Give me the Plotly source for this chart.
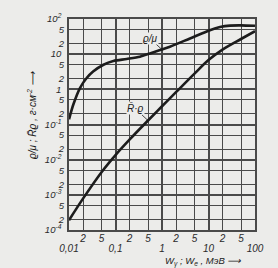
import plotly.graph_objects as go
import numpy as np

# ---- data ----
energy_mu = [0.01, 0.0124, 0.0172, 0.024, 0.033, 0.055, 0.09, 0.174, 0.336, 0.55,
             0.91, 1.48, 4.0, 10.7, 17.7, 29, 50, 100]
rho_mu = [0.14, 0.37, 1.09, 2.1, 3.2, 5.0, 6.4, 7.3, 8.5, 10.5,
          13.1, 16.3, 28, 48, 59, 65, 66, 64]

energy_r = [0.01, 0.02, 0.05, 0.1, 0.2, 0.5, 1, 2, 5, 10, 20, 50, 100]
r_rho = [1.9e-4, 7.8e-4, 4.4e-3, 0.0135, 0.037, 0.13, 0.33, 0.83, 2.8, 6.8, 13.5, 27, 45]

x_decades = [0.01, 0.1, 1, 10, 100]
x_decade_text = ["0,01", "0,1", "1", "10", "100"]
x_minor = [0.02, 0.05, 0.2, 0.5, 2, 5, 20, 50]
x_minor_text = ["2", "5", "2", "5", "2", "5", "2", "5"]

y_decades = [1e-4, 1e-3, 1e-2, 1e-1, 1, 10, 100]
y_decade_text = ["10<sup>-4</sup>", "10<sup>-3</sup>", "10<sup>-2</sup>", "10<sup>-1</sup>",
                 "1", "10", "10<sup>2</sup>"]
y_minor = [2e-4, 5e-4, 2e-3, 5e-3, 2e-2, 5e-2, 0.2, 0.5, 2, 5, 20, 50]
y_minor_text = ["2", "5"] * 6

ink = "#1c1c1c"
grid = "#4a4a4a"
paper = "#ececea"
family = "Liberation Sans, Arial, sans-serif"
fnt = dict(family=family, size=10, color="#2a2a2a", style="italic")
yfnt = dict(family=family, size=9.5, color="#2a2a2a", style="italic")

fig = go.Figure()
fig.add_trace(go.Scatter(x=energy_mu, y=rho_mu, mode="lines",
                         line=dict(color=ink, width=2.6, shape="spline", smoothing=0.8),
                         showlegend=False, hoverinfo="skip"))
fig.add_trace(go.Scatter(x=energy_r, y=r_rho, mode="lines",
                         line=dict(color=ink, width=2.6, shape="spline", smoothing=1.0),
                         showlegend=False, hoverinfo="skip"))
fig.add_trace(go.Scatter(x=[], y=[], xaxis="x2", yaxis="y2", showlegend=False, hoverinfo="skip"))

axis_common = dict(type="log", showline=True, linecolor=grid, linewidth=1.5, mirror=True,
                   ticks="", zeroline=False, tickmode="array")

fig.update_layout(
    width=278, height=268,
    margin=dict(l=69, r=23, t=17, b=38),
    paper_bgcolor=paper, plot_bgcolor=paper,
    xaxis=dict(**axis_common, range=[-2, 2], tickvals=x_decades, ticktext=x_decade_text,
               tickfont=fnt, showgrid=True, gridcolor=grid, gridwidth=1.6, ticklabelstandoff=8,
               minor=dict(tickmode="array", tickvals=x_minor, showgrid=True, gridcolor=grid,
                          gridwidth=0.9, ticks="")),
    yaxis=dict(**axis_common, range=[-4, 2], tickvals=y_decades, ticktext=y_decade_text,
               tickfont=yfnt, showgrid=True, gridcolor=grid, gridwidth=1.6, ticklabelstandoff=4,
               minor=dict(tickmode="array", tickvals=y_minor, showgrid=True, gridcolor=grid,
                          gridwidth=0.9, ticks="")),
    xaxis2=dict(type="log", range=[-2, 2], overlaying="x", anchor="y2", side="bottom", showgrid=False,
                showline=False, zeroline=False, ticks="", tickmode="array", tickvals=x_minor,
                ticktext=x_minor_text, tickfont=fnt, ticklabelstandoff=1),
    yaxis2=dict(type="log", range=[-4, 2], overlaying="y", anchor="x2", side="left", showgrid=False,
                showline=False, zeroline=False, ticks="", tickmode="array", tickvals=y_minor,
                ticktext=y_minor_text, tickfont=yfnt, ticklabelstandoff=4),
)

# curve labels with leader lines
fig.add_annotation(x=np.log10(1.0), y=np.log10(13.5), xref="x", yref="y", text="ϱ/μ",
                   showarrow=True, arrowhead=0, arrowwidth=0.8, arrowcolor=ink, ax=-12, ay=-11,
                   font=dict(family=family, size=10, color=ink, style="italic"),
                   bgcolor=paper, borderpad=0)
fig.add_annotation(x=np.log10(0.5), y=np.log10(0.13), xref="x", yref="y", text="R̄·ϱ",
                   showarrow=True, arrowhead=0, arrowwidth=0.8, arrowcolor=ink, ax=-13, ay=-12,
                   font=dict(family=family, size=10, color=ink, style="italic"),
                   bgcolor=paper, borderpad=0)

# axis titles
fig.add_annotation(x=(32 - 69) / 186, y=(230 - 114) / 213, xref="paper", yref="paper",
                   text="ϱ/μ ; R̄ϱ , г·см<sup>-2</sup> ⟶", showarrow=False, textangle=-90,
                   xanchor="center", yanchor="middle",
                   font=dict(family=family, size=10, color=ink, style="italic"))
fig.add_annotation(x=(203 - 69) / 186, y=(230 - 261.5) / 213, xref="paper", yref="paper",
                   text="W<sub>γ</sub> ; W<sub>e</sub> , МэВ ⟶", showarrow=False,
                   xanchor="center", yanchor="middle",
                   font=dict(family=family, size=9.5, color=ink, style="italic"))

fig.write_html("out.html")
